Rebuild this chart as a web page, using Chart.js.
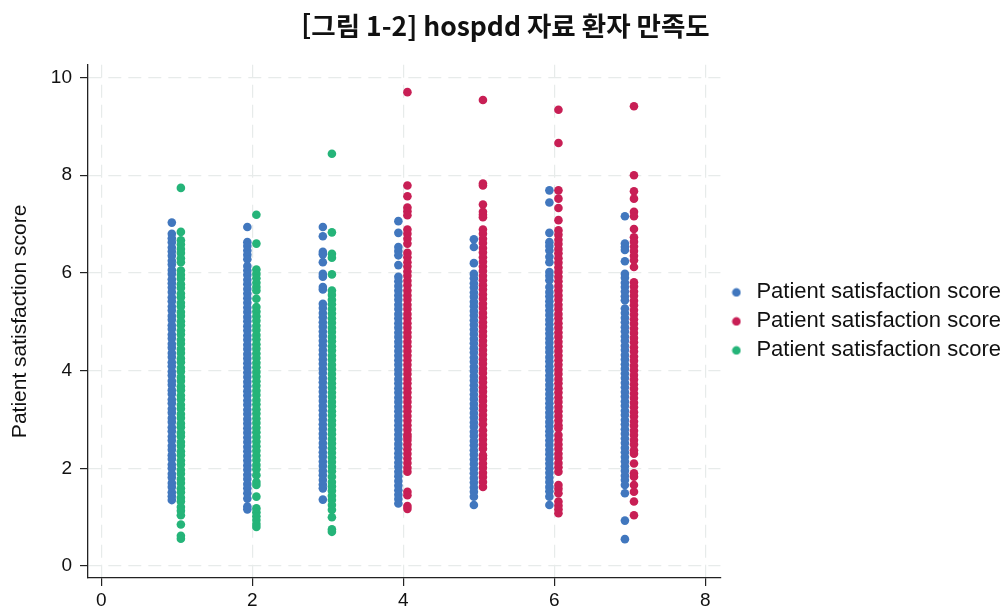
<!DOCTYPE html>
<html lang="ko">
<head>
<meta charset="utf-8">
<title>hospdd 자료 환자 만족도</title>
<script src="https://cdn.jsdelivr.net/npm/chart.js@4.4.1/dist/chart.umd.min.js"></script>
<style>
  html, body { margin: 0; padding: 0; background: #fff; }
  #wrap { width: 1007px; height: 607px; }
</style>
</head>
<body>
<div id="wrap"><canvas id="chart" width="1007" height="607"></canvas></div>
<script>
// Satisfaction scores per period, one list per column of points
const blue1 = [7.03, 6.80, 6.71, 6.63, 6.52, 6.44, 6.35, 6.25, 6.17, 6.06, 5.98, 5.87, 5.79, 5.70, 5.61, 5.50, 5.42, 5.31, 5.23, 5.12, 5.04, 4.93, 4.85, 4.74, 4.66, 4.55, 4.47, 4.36, 4.28, 4.17, 4.09, 3.98, 3.90, 3.79, 3.71, 3.60, 3.52, 3.41, 3.33, 3.22, 3.14, 3.03, 2.95, 2.84, 2.76, 2.65, 2.57, 2.46, 2.38, 2.27, 2.19, 2.08, 2.00, 1.89, 1.81, 1.70, 1.62, 1.51, 1.43, 1.35];
const blue2 = [6.94, 6.63, 6.55, 6.46, 6.37, 6.28, 6.14, 6.05, 5.96, 5.86, 5.77, 5.67, 5.58, 5.48, 5.39, 5.29, 5.20, 5.10, 5.01, 4.91, 4.82, 4.72, 4.63, 4.53, 4.44, 4.34, 4.25, 4.15, 4.06, 3.96, 3.87, 3.77, 3.68, 3.58, 3.49, 3.39, 3.30, 3.20, 3.11, 3.01, 2.92, 2.82, 2.73, 2.63, 2.54, 2.44, 2.35, 2.25, 2.16, 2.06, 1.97, 1.87, 1.78, 1.68, 1.59, 1.49, 1.38, 1.22, 1.16];
const blue3 = [6.94, 6.75, 6.43, 6.38, 6.22, 5.98, 5.92, 5.71, 5.66, 5.37, 5.28, 5.18, 5.09, 4.99, 4.90, 4.80, 4.71, 4.61, 4.52, 4.42, 4.33, 4.23, 4.14, 4.04, 3.95, 3.85, 3.76, 3.66, 3.57, 3.47, 3.38, 3.28, 3.19, 3.09, 3.00, 2.90, 2.81, 2.71, 2.62, 2.52, 2.43, 2.33, 2.24, 2.14, 2.05, 1.95, 1.86, 1.76, 1.67, 1.59, 1.36];
const blue4 = [7.06, 6.82, 6.53, 6.45, 6.36, 6.16, 5.92, 5.83, 5.73, 5.64, 5.54, 5.45, 5.35, 5.26, 5.16, 5.07, 4.97, 4.88, 4.78, 4.69, 4.59, 4.50, 4.40, 4.31, 4.21, 4.12, 4.02, 3.93, 3.83, 3.74, 3.64, 3.55, 3.45, 3.36, 3.26, 3.17, 3.07, 2.98, 2.88, 2.79, 2.69, 2.60, 2.50, 2.41, 2.31, 2.22, 2.12, 2.03, 1.93, 1.84, 1.74, 1.65, 1.55, 1.46, 1.37, 1.28];
const blue5 = [6.69, 6.53, 6.20, 5.98, 5.89, 5.79, 5.70, 5.60, 5.51, 5.41, 5.32, 5.22, 5.13, 5.03, 4.94, 4.84, 4.75, 4.65, 4.56, 4.46, 4.37, 4.27, 4.18, 4.08, 3.99, 3.89, 3.80, 3.70, 3.61, 3.51, 3.42, 3.32, 3.23, 3.13, 3.04, 2.94, 2.85, 2.75, 2.66, 2.56, 2.47, 2.37, 2.28, 2.18, 2.09, 1.99, 1.90, 1.80, 1.71, 1.61, 1.52, 1.42, 1.25];
const blue6 = [7.69, 7.44, 6.82, 6.63, 6.55, 6.46, 6.33, 6.22, 6.02, 5.94, 5.85, 5.71, 5.61, 5.52, 5.42, 5.33, 5.23, 5.14, 5.04, 4.95, 4.85, 4.76, 4.66, 4.57, 4.47, 4.38, 4.28, 4.19, 4.09, 4.00, 3.90, 3.81, 3.71, 3.62, 3.52, 3.43, 3.33, 3.24, 3.14, 3.05, 2.95, 2.86, 2.76, 2.67, 2.57, 2.48, 2.38, 2.29, 2.19, 2.10, 2.00, 1.91, 1.81, 1.72, 1.62, 1.53, 1.42, 1.25];
const blue7 = [7.16, 6.60, 6.53, 6.47, 6.24, 5.98, 5.90, 5.80, 5.71, 5.62, 5.52, 5.44, 5.27, 5.18, 5.08, 4.99, 4.89, 4.80, 4.70, 4.61, 4.51, 4.42, 4.32, 4.23, 4.13, 4.04, 3.94, 3.85, 3.75, 3.66, 3.56, 3.47, 3.37, 3.28, 3.18, 3.09, 2.99, 2.90, 2.80, 2.71, 2.61, 2.52, 2.42, 2.33, 2.23, 2.14, 2.04, 1.95, 1.85, 1.76, 1.66, 1.49, 0.93, 0.55];

const red4 = [9.70, 7.79, 7.57, 7.34, 7.26, 7.18, 6.89, 6.80, 6.70, 6.60, 6.41, 6.32, 6.22, 6.13, 6.03, 5.94, 5.84, 5.75, 5.64, 5.54, 5.45, 5.35, 5.26, 5.16, 5.07, 4.97, 4.88, 4.78, 4.69, 4.59, 4.50, 4.40, 4.31, 4.21, 4.12, 4.02, 3.93, 3.83, 3.74, 3.64, 3.55, 3.45, 3.36, 3.26, 3.17, 3.07, 2.98, 2.88, 2.79, 2.69, 2.64, 2.58, 2.49, 2.39, 2.30, 2.20, 2.11, 2.01, 1.93, 1.52, 1.45, 1.23, 1.17];
const red5 = [9.54, 7.83, 7.79, 7.40, 7.25, 7.19, 7.14, 6.89, 6.80, 6.70, 6.61, 6.51, 6.42, 6.32, 6.23, 6.13, 6.04, 5.94, 5.85, 5.75, 5.66, 5.56, 5.47, 5.37, 5.28, 5.18, 5.09, 4.99, 4.90, 4.80, 4.71, 4.61, 4.52, 4.42, 4.33, 4.23, 4.14, 4.04, 3.95, 3.85, 3.76, 3.66, 3.57, 3.47, 3.38, 3.28, 3.19, 3.09, 3.00, 2.90, 2.78, 2.68, 2.59, 2.49, 2.40, 2.27, 2.20, 2.10, 2.01, 1.91, 1.82, 1.72, 1.62];
const red6 = [9.34, 8.66, 7.69, 7.52, 7.33, 7.08, 6.87, 6.78, 6.68, 6.59, 6.49, 6.40, 6.30, 6.21, 6.11, 6.02, 5.92, 5.83, 5.73, 5.64, 5.54, 5.45, 5.35, 5.26, 5.16, 5.07, 4.97, 4.88, 4.78, 4.69, 4.59, 4.50, 4.40, 4.31, 4.21, 4.12, 4.02, 3.93, 3.83, 3.74, 3.64, 3.55, 3.45, 3.36, 3.26, 3.17, 3.07, 2.98, 2.88, 2.82, 2.68, 2.59, 2.49, 2.40, 2.30, 2.21, 2.11, 2.02, 1.93, 1.66, 1.58, 1.49, 1.32, 1.24, 1.16, 1.08];
const red7 = [9.41, 8.00, 7.67, 7.52, 7.25, 7.16, 6.90, 6.73, 6.64, 6.54, 6.45, 6.35, 6.26, 6.12, 5.81, 5.72, 5.62, 5.53, 5.43, 5.34, 5.24, 5.15, 5.05, 4.96, 4.86, 4.77, 4.67, 4.58, 4.48, 4.39, 4.29, 4.20, 4.10, 4.01, 3.91, 3.82, 3.72, 3.63, 3.53, 3.44, 3.34, 3.25, 3.15, 3.06, 2.96, 2.87, 2.77, 2.68, 2.58, 2.49, 2.37, 2.30, 2.10, 1.90, 1.83, 1.66, 1.52, 1.32, 1.04];

const green1 = [7.74, 6.84, 6.67, 6.58, 6.49, 6.41, 6.30, 6.22, 6.05, 5.96, 5.88, 5.77, 5.69, 5.58, 5.50, 5.39, 5.31, 5.20, 5.12, 5.01, 4.93, 4.82, 4.74, 4.63, 4.55, 4.44, 4.36, 4.25, 4.17, 4.06, 3.98, 3.87, 3.79, 3.68, 3.60, 3.49, 3.41, 3.30, 3.22, 3.11, 3.03, 2.92, 2.84, 2.73, 2.65, 2.54, 2.46, 2.35, 2.27, 2.16, 2.08, 1.97, 1.89, 1.78, 1.70, 1.59, 1.51, 1.40, 1.32, 1.21, 1.13, 1.04, 0.85, 0.62, 0.56];
const green2 = [7.19, 6.60, 6.07, 5.98, 5.89, 5.80, 5.71, 5.64, 5.47, 5.30, 5.21, 5.11, 5.02, 4.92, 4.83, 4.73, 4.64, 4.54, 4.45, 4.35, 4.26, 4.16, 4.07, 3.97, 3.88, 3.78, 3.69, 3.59, 3.50, 3.40, 3.31, 3.21, 3.12, 3.02, 2.93, 2.83, 2.74, 2.64, 2.55, 2.45, 2.36, 2.26, 2.17, 2.07, 1.98, 1.86, 1.72, 1.66, 1.42, 1.18, 1.10, 1.02, 0.94, 0.86, 0.80];
const green3 = [8.44, 6.83, 6.39, 6.31, 5.97, 5.64, 5.55, 5.45, 5.36, 5.26, 5.17, 5.07, 4.98, 4.88, 4.79, 4.69, 4.60, 4.50, 4.41, 4.31, 4.22, 4.12, 4.03, 3.93, 3.84, 3.74, 3.65, 3.55, 3.46, 3.36, 3.27, 3.17, 3.08, 2.98, 2.89, 2.79, 2.70, 2.60, 2.51, 2.41, 2.32, 2.22, 2.13, 2.03, 1.94, 1.83, 1.72, 1.63, 1.54, 1.44, 1.35, 1.25, 1.15, 1.00, 0.75, 0.70];

const blueGroups = [1, 2, 3, 4, 5, 6, 7];
const redGroups = [4, 5, 6, 7];
const greenGroups = [1, 2, 3];
const seriesLabels = ['Patient satisfaction score', 'Patient satisfaction score', 'Patient satisfaction score'];
const xTicks = [0, 2, 4, 6, 8];
const yTicks = [0, 2, 4, 6, 8, 10];

const BLUE = '#4177be';
const RED = '#c81f55';
const GREEN = '#25b479';
const INK = '#111111';
const GRID = '#e7ebea';

Chart.defaults.font.family = '"Liberation Sans", Arial, sans-serif';

// spread each group's column of points onto x = group + shift
function toPoints(groups, columns, shift) {
    return groups.flatMap((g, i) => columns[i].map(y => ({ x: g + shift, y })));
}

// small round swatches for the legend, so the gap to the text can be set freely
function makeDot(color) {
    const c = document.createElement('canvas');
    c.width = 10;
    c.height = 10;
    const g = c.getContext('2d');
    g.fillStyle = color;
    g.beginPath();
    g.arc(5, 5, 4.3, 0, Math.PI * 2);
    g.fill();
    return c;
}
const legendDots = [makeDot(BLUE), makeDot(RED), makeDot(GREEN)];

const pointStyle = { pointRadius: 4.3, pointHoverRadius: 4.3, borderWidth: 0, showLine: false };

const datasets = [
    { label: seriesLabels[0], data: toPoints(blueGroups, [blue1, blue2, blue3, blue4, blue5, blue6, blue7], -0.065), backgroundColor: BLUE, ...pointStyle },
    { label: seriesLabels[1], data: toPoints(redGroups, [red4, red5, red6, red7], 0.055), backgroundColor: RED, ...pointStyle },
    { label: seriesLabels[2], data: toPoints(greenGroups, [green1, green2, green3], 0.055), backgroundColor: GREEN, ...pointStyle }
];

const axisCommon = {
    type: 'linear',
    grid: { color: GRID, lineWidth: 1.2, drawTicks: true, tickLength: 8, tickColor: '#222', tickWidth: 1.2 },
    border: { display: true, color: '#222', width: 1.3, dash: [13, 7] }
};

new Chart(document.getElementById('chart'), {
    type: 'scatter',
    data: { datasets },
    options: {
        responsive: false,
        animation: false,
        devicePixelRatio: 1,
        layout: { padding: { left: 0, right: -4, top: 0, bottom: 0 } },
        scales: {
            x: {
                ...axisCommon,
                min: -0.175,
                max: 8.2,
                afterBuildTicks: s => { s.ticks = xTicks.map(v => ({ value: v })); },
                afterFit: s => { s.height = 29; },
                ticks: { font: { size: 19 }, color: INK, padding: 3, maxRotation: 0 }
            },
            y: {
                ...axisCommon,
                min: -0.245,
                max: 10.26,
                afterBuildTicks: s => { s.ticks = yTicks.map(v => ({ value: v })); },
                afterFit: s => { s.width = 88; },
                ticks: { font: { size: 19 }, color: INK, padding: 8 },
                title: {
                    display: true,
                    text: 'Patient satisfaction score',
                    font: { size: 21 },
                    color: INK,
                    padding: { top: 8, bottom: 0 }
                }
            }
        },
        plugins: {
            title: {
                display: true,
                text: '[그림 1-2] hospdd 자료 환자 만족도',
                font: { family: '"Noto Sans CJK KR", sans-serif', size: 26.5, weight: 'bold' },
                color: INK,
                padding: { top: 10, bottom: 23 }
            },
            legend: {
                position: 'right',
                align: 'center',
                fullSize: false,
                maxWidth: 320,
                labels: {
                    usePointStyle: true,
                    pointStyleWidth: 18,
                    boxHeight: 10,
                    padding: 7,
                    color: INK,
                    font: { size: 22 },
                    generateLabels: chart => Chart.defaults.plugins.legend.labels.generateLabels(chart)
                        .map((item, i) => ({ ...item, pointStyle: legendDots[i] }))
                }
            },
            tooltip: { enabled: false }
        }
    }
});
</script>
</body>
</html>
